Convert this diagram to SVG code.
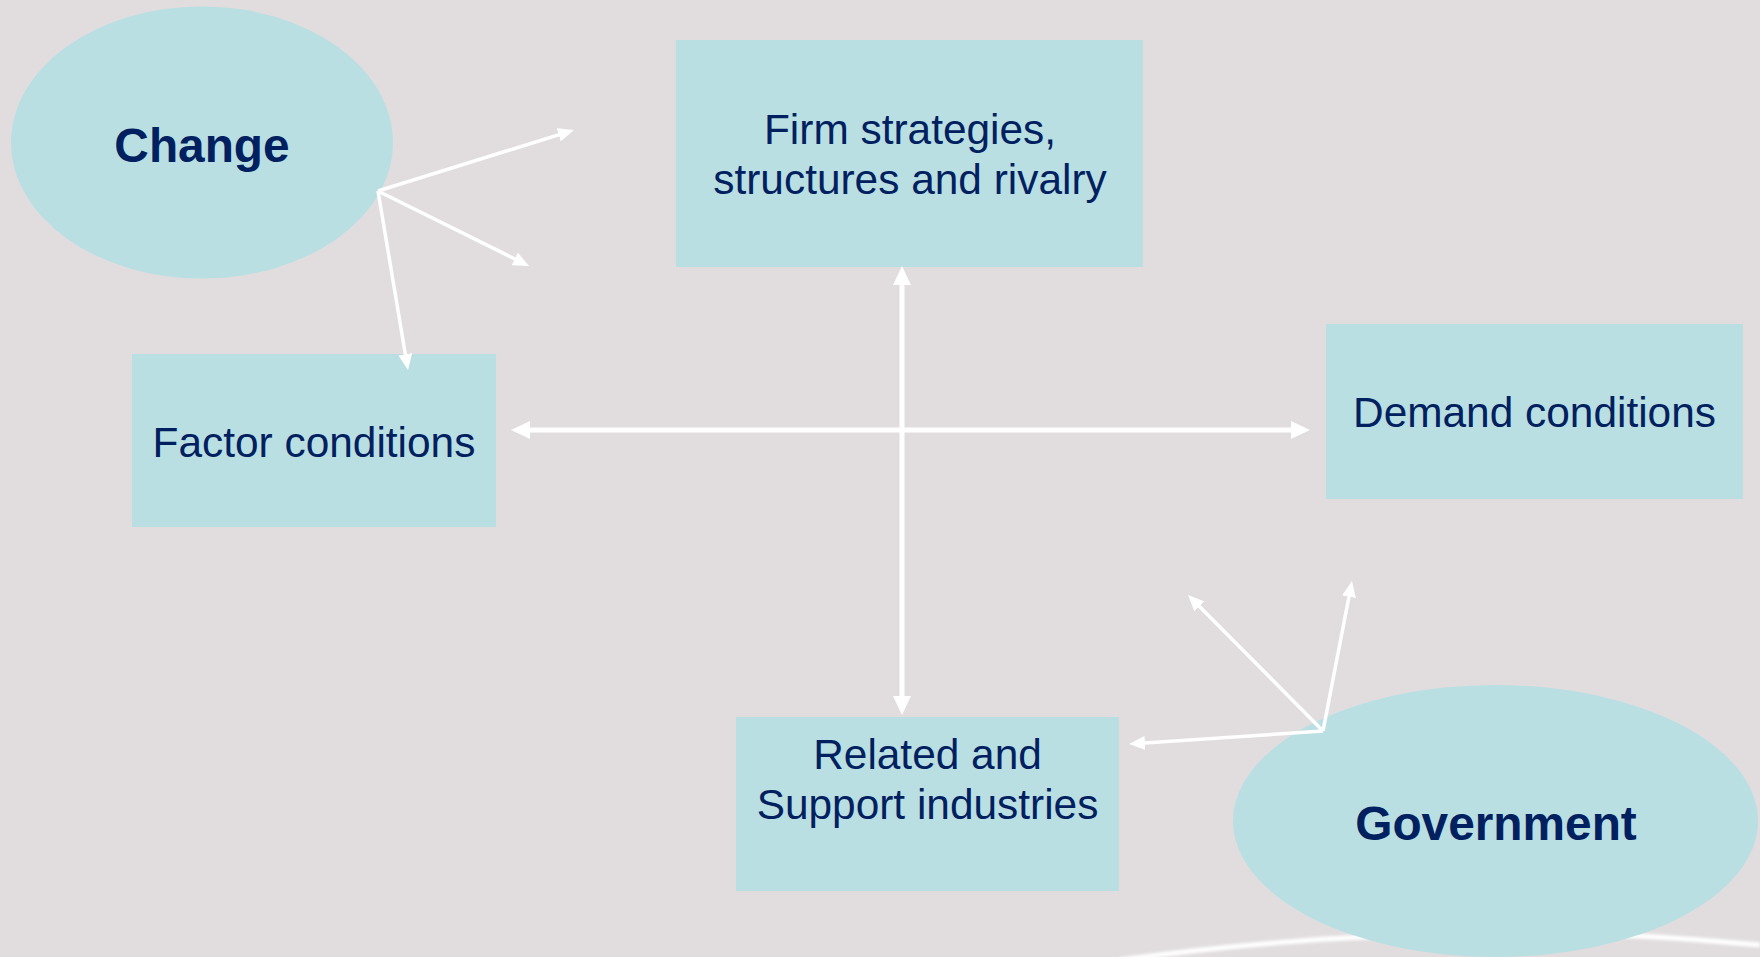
<svg xmlns="http://www.w3.org/2000/svg" width="1760" height="957" viewBox="0 0 1760 957">
  <style>
    .shape { fill: #b9dfe2; }
    .label { font-family: "Liberation Sans", Arial, sans-serif; font-size: 42.4px; fill: #002060; text-anchor: middle; }
    .title { font-family: "Liberation Sans", Arial, sans-serif; font-size: 47.8px; font-weight: bold; fill: #002060; text-anchor: middle; }
    .thin { stroke: #ffffff; stroke-width: 3.5; fill: none; marker-end: url(#headSmall); }
    .thick { stroke: #ffffff; stroke-width: 5; fill: none; marker-start: url(#headBig); marker-end: url(#headBig); }
  </style>
  <defs>
    <marker id="headSmall" markerUnits="userSpaceOnUse" markerWidth="16" markerHeight="14" refX="4" refY="7" orient="auto">
      <path d="M0,0 L16,7 L0,14 z" fill="#ffffff"/>
    </marker>
    <marker id="headBig" markerUnits="userSpaceOnUse" markerWidth="19" markerHeight="18" refX="4" refY="9" orient="auto-start-reverse">
      <path d="M0,0 L19,9 L0,18 z" fill="#ffffff"/>
    </marker>
    <filter id="soft" x="-10%" y="-10%" width="120%" height="120%">
      <feGaussianBlur stdDeviation="1.6"/>
    </filter>
  </defs>

  <rect x="0" y="0" width="1760" height="957" fill="#e1dddf"/>
  <path d="M1120,960 Q1450,915 1760,945" fill="none" stroke="#ffffff" stroke-width="5" filter="url(#soft)"/>

  <g id="change">
    <ellipse class="shape" cx="202" cy="142.5" rx="191" ry="136"/>
    <text class="title" x="202" y="162">Change</text>
  </g>

  <g id="firm">
    <rect class="shape" x="676" y="40" width="467" height="227"/>
    <text class="label" x="910" y="144">Firm strategies,</text>
    <text class="label" x="910" y="194">structures and rivalry</text>
  </g>

  <g id="factor">
    <rect class="shape" x="132" y="354" width="364" height="173"/>
    <text class="label" x="314" y="457">Factor conditions</text>
  </g>

  <g id="demand">
    <rect class="shape" x="1326" y="324" width="417" height="175"/>
    <text class="label" x="1534.5" y="427">Demand conditions</text>
  </g>

  <g id="related">
    <rect class="shape" x="736" y="717" width="383" height="174"/>
    <text class="label" x="927.5" y="769">Related and</text>
    <text class="label" x="927.5" y="819">Support industries</text>
  </g>

  <g id="government">
    <ellipse class="shape" cx="1495.5" cy="821" rx="262.5" ry="136"/>
    <text class="title" x="1496" y="840">Government</text>
  </g>

  <g id="connectors">
    <line class="thick" x1="902" y1="281" x2="902" y2="700"/>
    <line class="thick" x1="526" y1="430" x2="1295" y2="430"/>
    <line class="thin" x1="378" y1="191" x2="562.5" y2="133.6"/>
    <line class="thin" x1="378" y1="191" x2="518.3" y2="260.7"/>
    <line class="thin" x1="378" y1="191" x2="406" y2="358.2"/>
    <line class="thin" x1="1323" y1="731" x2="1196.5" y2="603.5"/>
    <line class="thin" x1="1323" y1="731" x2="1349.7" y2="592.8"/>
    <line class="thin" x1="1323" y1="731" x2="1141" y2="743.2"/>
  </g>
</svg>
